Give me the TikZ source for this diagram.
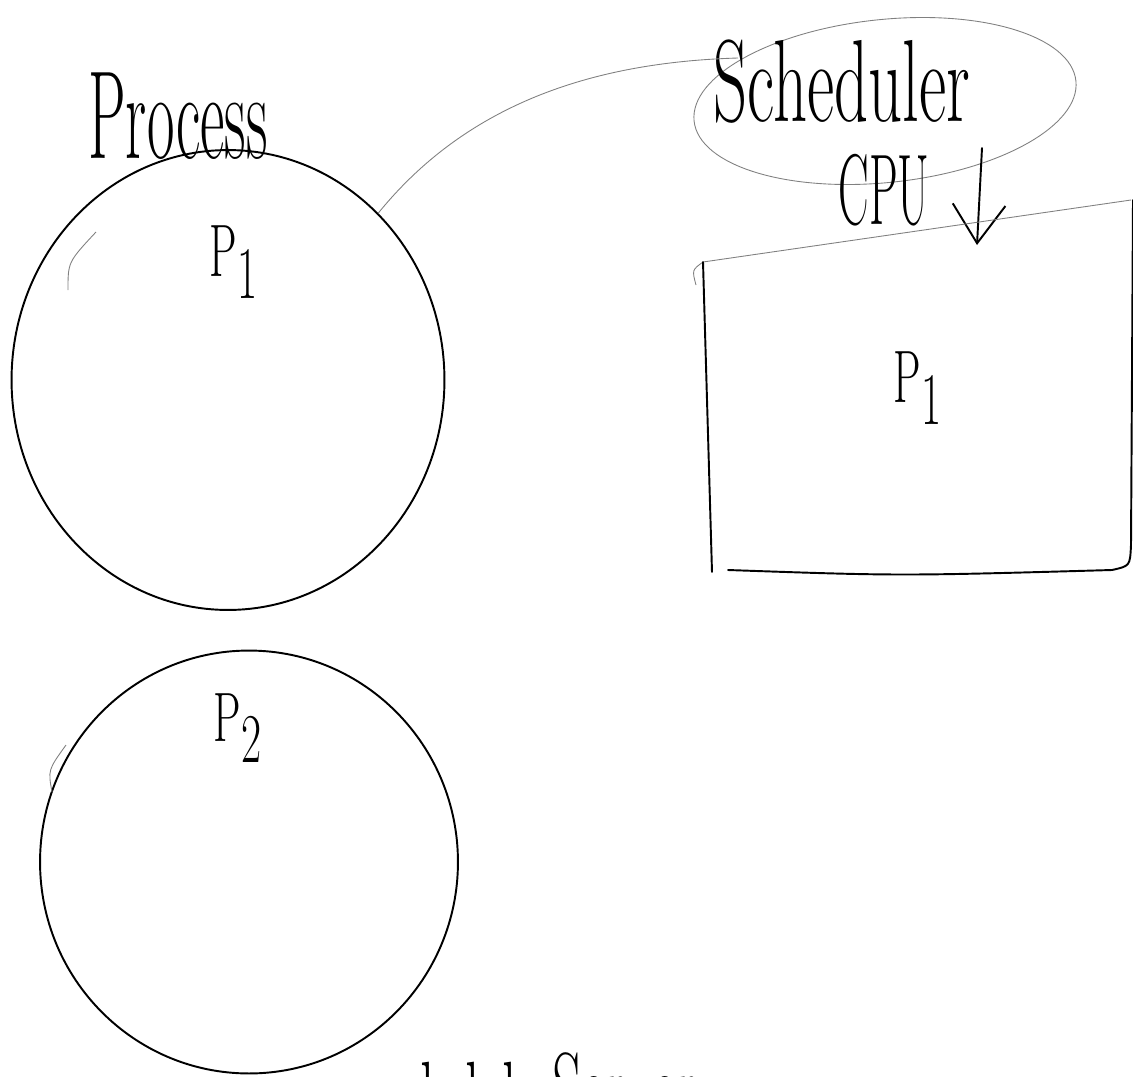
\documentclass[tikz,border=0pt]{standalone}
\usetikzlibrary{shapes.geometric,arrows.meta}
\tikzset{
  pen/.style={line width=1.1pt, line cap=round, line join=round},
  pencil/.style={line width=0.5pt, black!50},
  blob/.style={ellipse, draw, pen, inner sep=0pt},
  hand/.style={inner sep=0pt, font=\fontsize{#1}{#1}\selectfont},
}
% stretch text upright so it looks written by hand
\newcommand{\tall}[2][1.6]{\scalebox{1}[#1]{#2}}

\begin{document}
\begin{tikzpicture}[x=0.02cm,y=-0.02cm]
\useasboundingbox (0,0) rectangle (1133,1076);
\clip (0,0) rectangle (1133,1076);

% left column: processes
\node[hand=34] (proc) at (178,116) {\tall[2.1]{Process}};
\node[blob, minimum width=8.66cm, minimum height=9.2cm] (c1) at (228,380) {};
\draw[pencil] (68,290) .. controls (68,262) .. (96,232); % start of the stroke
\node[hand=38] (p1a) at (234,262) {\tall[1.7]{$\mathrm{P}_1$}};
\node[blob, minimum width=8.36cm, minimum height=8.46cm] (c2) at (249,862) {};
\draw[pencil] (52,792) .. controls (48,770) .. (66,745);
\node[hand=36] (p2) at (238,728) {\tall{$\mathrm{P}_2$}};

% scheduler and cpu
\node[ellipse, draw, pencil, minimum width=7.68cm, minimum height=3.26cm, rotate=6] (ring) at (885,101) {};
\node[hand=38] (sched) at (842,82) {\tall[1.75]{Scheduler}};
\node[hand=26] (cpu) at (884,190) {\tall[2.2]{CPU}};
\coordinate (arrtop) at (982,148);
\coordinate (arrend) at (977,245);
\draw[pen, -{Straight Barb[length=22pt,width=30pt]}] (arrtop) -- (arrend);

% cpu box
\draw[pencil] (703,262) -- (1131,200);
\draw[pencil] (703,262) .. controls (692,270) .. (696,285);
\draw[pen] (703,262) -- (712,572);
\draw[pen] (728,570) .. controls (900,576) .. (1112,570)
  .. controls (1130,566) .. (1131,545) -- (1133,200);
\node[hand=56] (p1b) at (918,388) {\tall[1.7]{$\mathrm{P}_1$}};

% link from the process to the scheduler
\coordinate (stail) at (738,58);
\draw[pencil] (c1.48) .. controls (470,100) and (600,62) .. (stail);

% label running off the bottom edge
\node[hand=33, anchor=base west] (bars) at (420,1126) {\tall{l\hspace{0.62cm}l\hspace{0.44cm}l}};
\node[hand=33, anchor=base west] (srv) at (552,1117) {\tall{Server}};
\end{tikzpicture}
\end{document}
